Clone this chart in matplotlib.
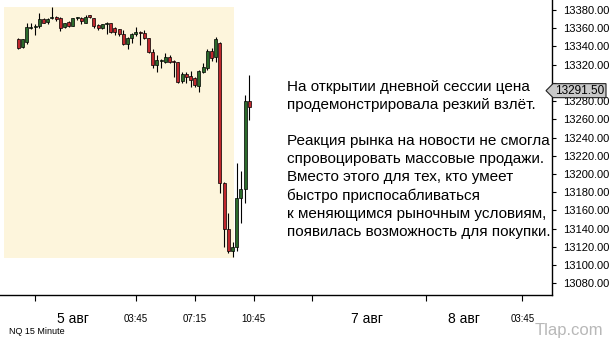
import matplotlib.pyplot as plt
import numpy as np
from matplotlib.patches import Rectangle, Polygon

# NQ 15 Minute, свечи (индекс бара = позиция по оси X)
opens = [13348, 13339, 13345, 13360, 13361.5, 13362, 13370, 13367, 13371, 13372,
         13371, 13361, 13367, 13363, 13371, 13371.5, 13366, 13374, 13371, 13363.5,
         13360, 13364.5, 13365.5, 13360, 13358.75, 13353.75, 13342.25, 13349, 13353.25, 13356,
         13354.5, 13349, 13333.5, 13319.5, 13324, 13323.25, 13328, 13324, 13322.5, 13302.5,
         13309.75, 13307.25, 13305, 13296.5, 13312.25, 13316.75, 13335, 13328, 13344, 13190.5,
         13139.25, 13115.75, 13119.5, 13173.25, 13183, 13280]
highs = [13349, 13348.5, 13366, 13365.5, 13364.5, 13376.25, 13371, 13371, 13383.75, 13373.5,
         13372, 13366, 13367.5, 13371.5, 13372.75, 13372.75, 13374, 13375, 13371.5, 13364.5,
         13365, 13366.5, 13366, 13361, 13359.5, 13358, 13350, 13355, 13361, 13356.5,
         13358, 13349.5, 13336.75, 13330.5, 13325.75, 13333.25, 13330.5, 13325, 13323.25, 13312.25,
         13312.25, 13313.5, 13306, 13314, 13322.25, 13336.75, 13338, 13350.75, 13345.25, 13191.5,
         13156.75, 13125.75, 13212.5, 13203.5, 13286.75, 13308.75]
lows = [13337.25, 13338.25, 13342.25, 13359.5, 13352.25, 13360, 13365.5, 13364.5, 13369.75, 13368.25,
        13357.25, 13360, 13361.5, 13362.5, 13369, 13364.5, 13365.5, 13371.25, 13360, 13358,
        13359, 13353.25, 13355, 13353, 13351.75, 13341.5, 13336.75, 13344, 13351.75, 13341.25,
        13347.75, 13333.25, 13316, 13312.25, 13316, 13322.25, 13321.5, 13306.75, 13300.25, 13300.25,
        13299.5, 13295, 13295, 13290.5, 13311.25, 13314, 13324.5, 13323.25, 13179.5, 13120.25,
        13113, 13108.5, 13115.75, 13146.5, 13168.5, 13259.25]
closes = [13338, 13348, 13361, 13361.5, 13362.5, 13370, 13366, 13370, 13372, 13370,
          13360.5, 13365.5, 13362.5, 13371, 13372, 13367.5, 13372, 13372, 13362.75, 13360,
          13364.25, 13365.5, 13356.25, 13356.25, 13353.25, 13342.25, 13349, 13353.75, 13356, 13355,
          13349, 13333.5, 13319.5, 13325, 13325, 13328, 13322.5, 13323.25, 13301.25, 13309.75,
          13306, 13303.25, 13297.75, 13313, 13317, 13335, 13327, 13347.75, 13190.5, 13139.25,
          13115.75, 13119.75, 13173.25, 13183.5, 13280, 13274]
last_price = 13291.50

tick_pos = [4, 28, 42, 56, 70, 97, 120]
tick_labels = ['', '03:45', '07:15', '10:45', '', '', '03:45']
date_pos = [13, 83, 106]
date_labels = ['5 авг', '7 авг', '8 авг']
price_ticks = np.arange(13080, 13381, 20)

note = ["На открытии дневной сессии цена",
        "продемонстрировала резкий взлёт.",
        "",
        "Реакция рынка на новости не смогла",
        "спровоцировать массовые продажи.",
        "Вместо этого для тех, кто умеет",
        "быстро приспосабливаться",
        "к меняющимся рыночным условиям,",
        "появилась возможность для покупки."]

plt.rcParams['font.family'] = ['Liberation Sans', 'DejaVu Sans']

W, H = 612, 349
fig = plt.figure(figsize=(W / 100, H / 100), dpi=100)
ax = fig.add_axes([0, (H - 295) / H, 552 / W, 295 / H])

o = np.array(opens)
c = np.array(closes)
x = np.arange(len(o))
up = c >= o
cols = np.where(up, '#2b6a2b', '#c0272d')

# выделенная область (сессия)
ax.add_patch(Rectangle((-3.4, 13107.5), 54.8, 276, facecolor='#fdf5dc',
                       edgecolor='none', zorder=0))

ax.vlines(x, lows, highs, color='black', linewidth=0.8, zorder=2)
ax.bar(x, np.abs(c - o), bottom=np.minimum(o, c), width=0.75, color=cols,
       edgecolor='black', linewidth=0.5, zorder=3)

ax.set_xlim(-4.36, 127.07)
ax.set_ylim(13067.2, 13391)

for s in ['left', 'top']:
    ax.spines[s].set_visible(False)
ax.spines['right'].set_linewidth(1)
ax.spines['bottom'].set_linewidth(1)

# подпись 13300 закрыта меткой цены, как на исходнике
ylabels = ['' if abs(v - last_price) < 10 else f'{v:.2f}' for v in price_ticks]
ax.yaxis.tick_right()
ax.set_yticks(price_ticks)
ax.set_yticklabels(ylabels, fontsize=8)
ax.tick_params(axis='y', length=3, width=0.8, pad=5)

ax.set_xticks(tick_pos)
ax.set_xticklabels([])
ax.tick_params(axis='x', length=4, width=0.8, direction='out')

tr = ax.get_xaxis_transform()
for p, lab in zip(tick_pos, tick_labels):
    if lab:
        ax.text(p, -0.08, lab, transform=tr, ha='center', va='center', fontsize=7)
for p, lab in zip(date_pos, date_labels):
    ax.text(p, -0.08, lab, transform=tr, ha='center', va='center', fontsize=10)

# метка последней цены
fig.canvas.draw()
yc = ax.transData.transform((0, last_price))[1]
pts = [(546, yc), (553, yc + 7), (606, yc + 7), (606, yc - 7), (553, yc - 7)]
tag = Polygon(pts, closed=True, facecolor='#c8c8c8', edgecolor='#222222',
              linewidth=0.8, transform=None, zorder=10)
fig.patches.append(tag)
fig.text(580 / W, yc / H, f'{last_price:.2f}', ha='center', va='center',
         fontsize=8.5, zorder=11)

# текст комментария
y0 = 87
for i, line in enumerate(note):
    if line:
        fig.text(287 / W, 1 - (y0 + i * 18.1) / H, line, ha='left', va='center',
                 fontsize=11)

fig.text(9 / W, 1 - 331 / H, 'NQ 15 Minute', ha='left', va='center', fontsize=6.5,
         family=['Liberation Sans Narrow', 'Liberation Sans'])
fig.text(603 / W, 1 - 331 / H, 'Tlap.com', ha='right', va='center', fontsize=12,
         color='#b8b8b8', family=['Liberation Sans Narrow', 'Liberation Sans'])

fig.savefig('out.png', dpi=100)
